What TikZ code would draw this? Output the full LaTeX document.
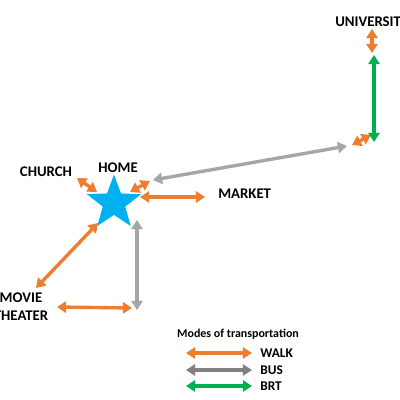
\documentclass[tikz,border=0pt]{standalone}
\usepackage{fontspec}
\setmainfont{Carlito}
\usetikzlibrary{arrows.meta,shapes.geometric}
\definecolor{walkorange}{HTML}{ED7D31}
\definecolor{busgray}{HTML}{A6A6A6}
\definecolor{busdark}{HTML}{808080}
\definecolor{brtgreen}{HTML}{00B050}
\definecolor{homeblue}{HTML}{00B0F0}
\tikzset{
  route/.style={line width=2.4pt, {Triangle[length=6.5pt,width=8pt]}-{Triangle[length=6.5pt,width=8pt]}},
  walk/.style={route, walkorange},
  bus/.style={route, busgray},
  brt/.style={route, brtgreen},
  place/.style={font=\bfseries\fontsize{10.5}{12}\selectfont, inner sep=0pt},
  legendtext/.style={font=\bfseries\fontsize{9.5}{11}\selectfont, anchor=west, inner sep=0pt}
}

\begin{document}
\begin{tikzpicture}[x=0.025cm,y=-0.025cm]
\useasboundingbox (0,0) rectangle (400,400);
\fill[white] (0,0) rectangle (400,400);

% places
\node[star, star points=5, star point ratio=2.4, minimum size=1.42cm, inner sep=0pt, fill=homeblue] (home) at (114,203) {};
\node[place] (homelbl) at (118,168) {HOME};
\node[place] (church) at (46,172) {CHURCH};
\node[place, anchor=west] (market) at (218,194) {MARKET};
\node[place, anchor=west] (univ) at (335,22) {UNIVERSITY};
\node[place, align=center] (movie) at (21,307) {MOVIE\\[1pt]THEATER};

% route ends
\coordinate (c1) at (77,178);   \coordinate (c2) at (97,192);
\coordinate (h1) at (130,192);  \coordinate (h2) at (150,181);
\coordinate (g1) at (153,180);  \coordinate (g2) at (347,146);
\coordinate (u1) at (352,145);  \coordinate (u2) at (371,135);
\coordinate (b1) at (374,55);   \coordinate (b2) at (374,142);
\coordinate (w1) at (372,29);   \coordinate (w2) at (372,53);
\coordinate (m1) at (140,197);  \coordinate (m2) at (205,197);
\coordinate (t1) at (36,288);   \coordinate (t2) at (98,223);
\coordinate (v1) at (137,220);  \coordinate (v2) at (137,310);
\coordinate (s1) at (57,307);   \coordinate (s2) at (132,308);

\draw[walk] (c1) -- (c2);
\draw[walk] (h1) -- (h2);
\draw[bus] (g1) -- (g2);
\draw[walk] (u1) -- (u2);
\draw[brt] (b1) -- (b2);
\draw[walk] (w1) -- (w2);
\draw[walk] (m1) -- (m2);
\draw[walk] (t1) -- (t2);
\draw[bus] (v1) -- (v2);
\draw[walk] (s1) -- (s2);

% legend
\node[font=\bfseries\fontsize{8.5}{10}\selectfont] (title) at (238,334) {Modes of transportation};
\coordinate (lw1) at (186,353); \coordinate (lw2) at (252,353);
\coordinate (lb1) at (186,370); \coordinate (lb2) at (252,370);
\coordinate (lr1) at (186,386); \coordinate (lr2) at (252,386);
\draw[walk] (lw1) -- (lw2);
\draw[route, busdark] (lb1) -- (lb2);
\draw[brt] (lr1) -- (lr2);
\node[legendtext] (walklbl) at (260,353) {WALK};
\node[legendtext] (buslbl) at (260,370) {BUS};
\node[legendtext] (brtlbl) at (260,386) {BRT};
\end{tikzpicture}
\end{document}
